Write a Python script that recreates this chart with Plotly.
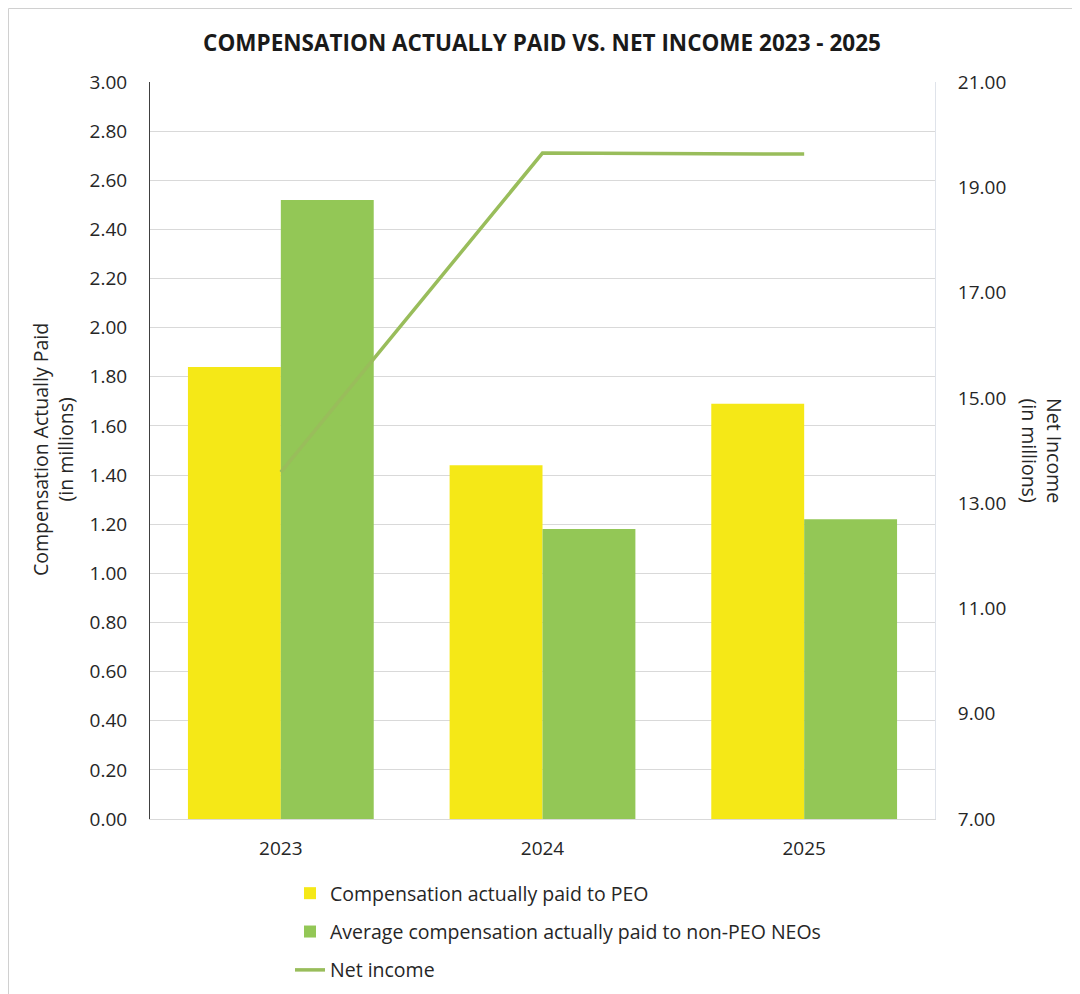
import plotly.graph_objects as go

years = ["2023", "2024", "2025"]
peo_cap = [1.84, 1.44, 1.69]
non_peo_cap = [2.52, 1.18, 1.22]
net_income = [13.59, 19.65, 19.63]

left_ticks = [round(i * 0.2, 2) for i in range(16)]
right_ticks = [7, 9, 11, 13, 15, 17, 19, 21]

W, H = 1080, 994
OFF = 8  # page body margin
# plot area in screen coordinates: x 150..935, y 82..819
L = 150 - OFF
T = 82 - OFF
R = W - (935 - OFF)
B = H - (819 - OFF)
pw = W - L - R
ph = H - T - B


def px(x):
    return (x - OFF - L) / pw


def py(y):
    return (H - B - (y - OFF)) / ph


font = "Open Sans"
txt = "#262626"

fig = go.Figure()
fig.add_trace(go.Bar(x=years, y=peo_cap, name="Compensation actually paid to PEO",
                     legendgroup="a",
                     marker=dict(color="#F5E817", line=dict(width=0))))
fig.add_trace(go.Bar(x=years, y=non_peo_cap, name="Average compensation actually paid to non-PEO NEOs",
                     legendgroup="b",
                     marker=dict(color="#93C756", line=dict(width=0))))
fig.add_trace(go.Scatter(x=years, y=net_income, name="Net income", yaxis="y2",
                         legendgroup="c",
                         mode="lines", line=dict(color="#99BD5B", width=3.5)))

fig.update_layout(
    width=W, height=H,
    margin=dict(l=L, r=R, t=T, b=B, autoexpand=False),
    paper_bgcolor="white", plot_bgcolor="white",
    font=dict(family=font, color=txt, size=19),
    title=dict(text="<b>COMPENSATION ACTUALLY PAID VS. NET INCOME 2023 - 2025</b>",
               x=(542 - OFF) / W, xanchor="center", y=1 - (43 - OFF) / H, yanchor="middle",
               yref="container",
               font=dict(family=font, size=22.5, color="#1a1a1a")),
    barmode="group", bargap=0.29, bargroupgap=0,
    xaxis=dict(showgrid=False, showline=True, linecolor="#d9d9d9", linewidth=1,
               ticks="outside", ticklen=12, tickcolor="rgba(0,0,0,0)",
               tickfont=dict(size=19)),
    yaxis=dict(range=[0, 3], tickvals=left_ticks, tickformat=".2f",
               showgrid=True, gridcolor="#d9d9d9", gridwidth=1,
               showline=True, linecolor="#404040", linewidth=1,
               zeroline=False,
               ticks="outside", ticklen=18, tickcolor="rgba(0,0,0,0)",
               tickfont=dict(size=19)),
    yaxis2=dict(range=[7, 21], tickvals=right_ticks, tickformat=".2f",
                overlaying="y", side="right", showgrid=False, zeroline=False,
                showline=True, linecolor="#dfe3ea", linewidth=1,
                ticks="outside", ticklen=18, tickcolor="rgba(0,0,0,0)",
                tickfont=dict(size=19)),
    legend=dict(x=px(290), y=py(874), xanchor="left", yanchor="top",
                orientation="v", font=dict(size=19.5, color=txt),
                tracegroupgap=10, itemwidth=30, bgcolor="rgba(0,0,0,0)",
                traceorder="grouped"),
    annotations=[
        dict(text="Compensation Actually Paid<br>(in millions)", textangle=-90,
             x=px(53), y=py(450), xref="paper", yref="paper", showarrow=False,
             font=dict(size=19.5, color=txt), xanchor="center", yanchor="middle"),
        dict(text="Net Income<br>(in millions)", textangle=90,
             x=px(1042), y=py(450), xref="paper", yref="paper", showarrow=False,
             font=dict(size=19.5, color=txt), xanchor="center", yanchor="middle"),
    ],
    shapes=[dict(type="rect", xref="paper", yref="paper",
                 x0=px(8.5), x1=px(1100), y0=py(1010), y1=py(8.5),
                 line=dict(color="#d0d0d0", width=1), fillcolor="rgba(0,0,0,0)",
                 layer="below")],
)

fig.write_html("out.html")
